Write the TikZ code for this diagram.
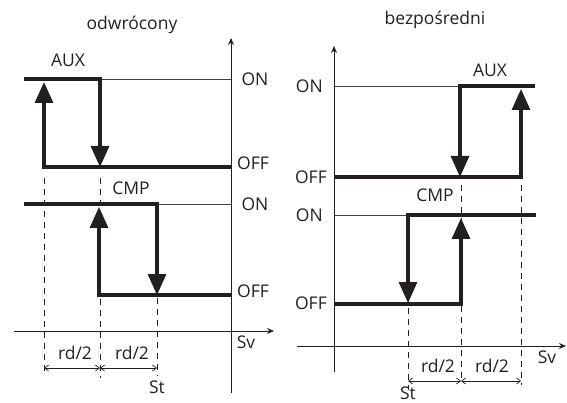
\documentclass[tikz,border=0pt]{standalone}
\usepackage{fontspec}
\setmainfont{Open Sans}
\usetikzlibrary{arrows.meta}
\definecolor{Tusz}{RGB}{35,31,32}
\tikzset{
  axisarr/.style={-{Stealth[length=7pt, width=6pt]}, line width=1pt, Tusz},
  steparr/.style={-{Triangle[length=21pt, width=18pt]}, line width=3.2pt, Tusz},
  stepline/.style={line width=3.2pt, Tusz},
  thinline/.style={line width=0.8pt, Tusz!85},
  guideline/.style={dash pattern=on 6pt off 5pt, line width=0.8pt, Tusz},
  dimarr/.style={{Straight Barb[length=4pt, width=6pt]}-{Straight Barb[length=4pt, width=6pt]},
    line width=0.7pt, Tusz},
  % ---- etykiety ----
  lbl/.style={font=\fontsize{17.5}{20}\selectfont, text=Tusz, inner sep=0pt},
}

\begin{document}
\begin{tikzpicture}[x=1pt, y=-1pt]
    \useasboundingbox (0,0) rectangle (567,403);
    % odwrocony
    \draw[guideline] (44,178) -- (44,374);
    \draw[guideline] (100,178) -- (100,378);
    \draw[guideline] (157,210) -- (157,376);
    \draw[thinline] (100,79) -- (231,79);
    \draw[thinline] (157,204) -- (231,204);
    \draw[axisarr] (231,393) -- (231,38);
    \draw[axisarr] (14,331) -- (274,331);
    \draw[steparr] (24,79) -- (100,79) -- (100,167);
    \draw[steparr] (231,167) -- (44,167) -- (44,82);
    \draw[steparr] (24,204) -- (157,204) -- (157,295);
    \draw[steparr] (231,295) -- (99,295) -- (99,207);
    \draw[dimarr] (44,368) -- (100,368);
    \draw[dimarr] (100,368) -- (157,368);
    \node[lbl] (tytulL) at (132,25) {odwrócony};
    \node[lbl] (auxL) at (68,60) {AUX};
    \node[lbl] (cmpL) at (131,188) {CMP};
    \node[lbl] (onAuxL) at (255,79) {ON};
    \node[lbl] (offAuxL) at (253,163) {OFF};
    \node[lbl] (onCmpL) at (255,204) {ON};
    \node[lbl] (offCmpL) at (253,291) {OFF};
    \node[lbl] (svL) at (246,342) {Sv};
    \node[lbl] (rdL1) at (75,353) {rd/2};
    \node[lbl] (rdL2) at (132,353) {rd/2};
    \node[lbl] (stL) at (157,387) {St};
    % bezposredni
    \draw[guideline] (461,185) -- (461,383);
    \draw[guideline] (521,185) -- (521,385);
    \draw[guideline] (408,220) -- (408,390);
    \draw[thinline] (334,86) -- (460,86);
    \draw[thinline] (334,215) -- (408,215);
    \draw[axisarr] (334,372) -- (334,46);
    \draw[axisarr] (297,346) -- (566,346);
    \draw[steparr] (535,86) -- (460,86) -- (460,177);
    \draw[steparr] (334,177) -- (521,177) -- (521,89);
    \draw[steparr] (536,215) -- (408,215) -- (408,303);
    \draw[steparr] (334,304) -- (461,304) -- (461,218);
    \draw[dimarr] (408,381) -- (461,381);
    \draw[dimarr] (461,381) -- (521,381);
    \node[lbl] (tytulR) at (435,20) {bezpośredni};
    \node[lbl] (auxR) at (490,70) {AUX};
    \node[lbl] (cmpR) at (435,195) {CMP};
    \node[lbl, anchor=east] (onAuxR) at (323,86) {ON};
    \node[lbl, anchor=east] (offAuxR) at (327,177) {OFF};
    \node[lbl, anchor=east] (onCmpR) at (323,215) {ON};
    \node[lbl, anchor=east] (offCmpR) at (327,303) {OFF};
    \node[lbl] (svR) at (547,357) {Sv};
    \node[lbl] (rdR1) at (438,366) {rd/2};
    \node[lbl] (rdR2) at (492,366) {rd/2};
    \node[lbl] (stR) at (408,393) {St};
\end{tikzpicture}
\end{document}
